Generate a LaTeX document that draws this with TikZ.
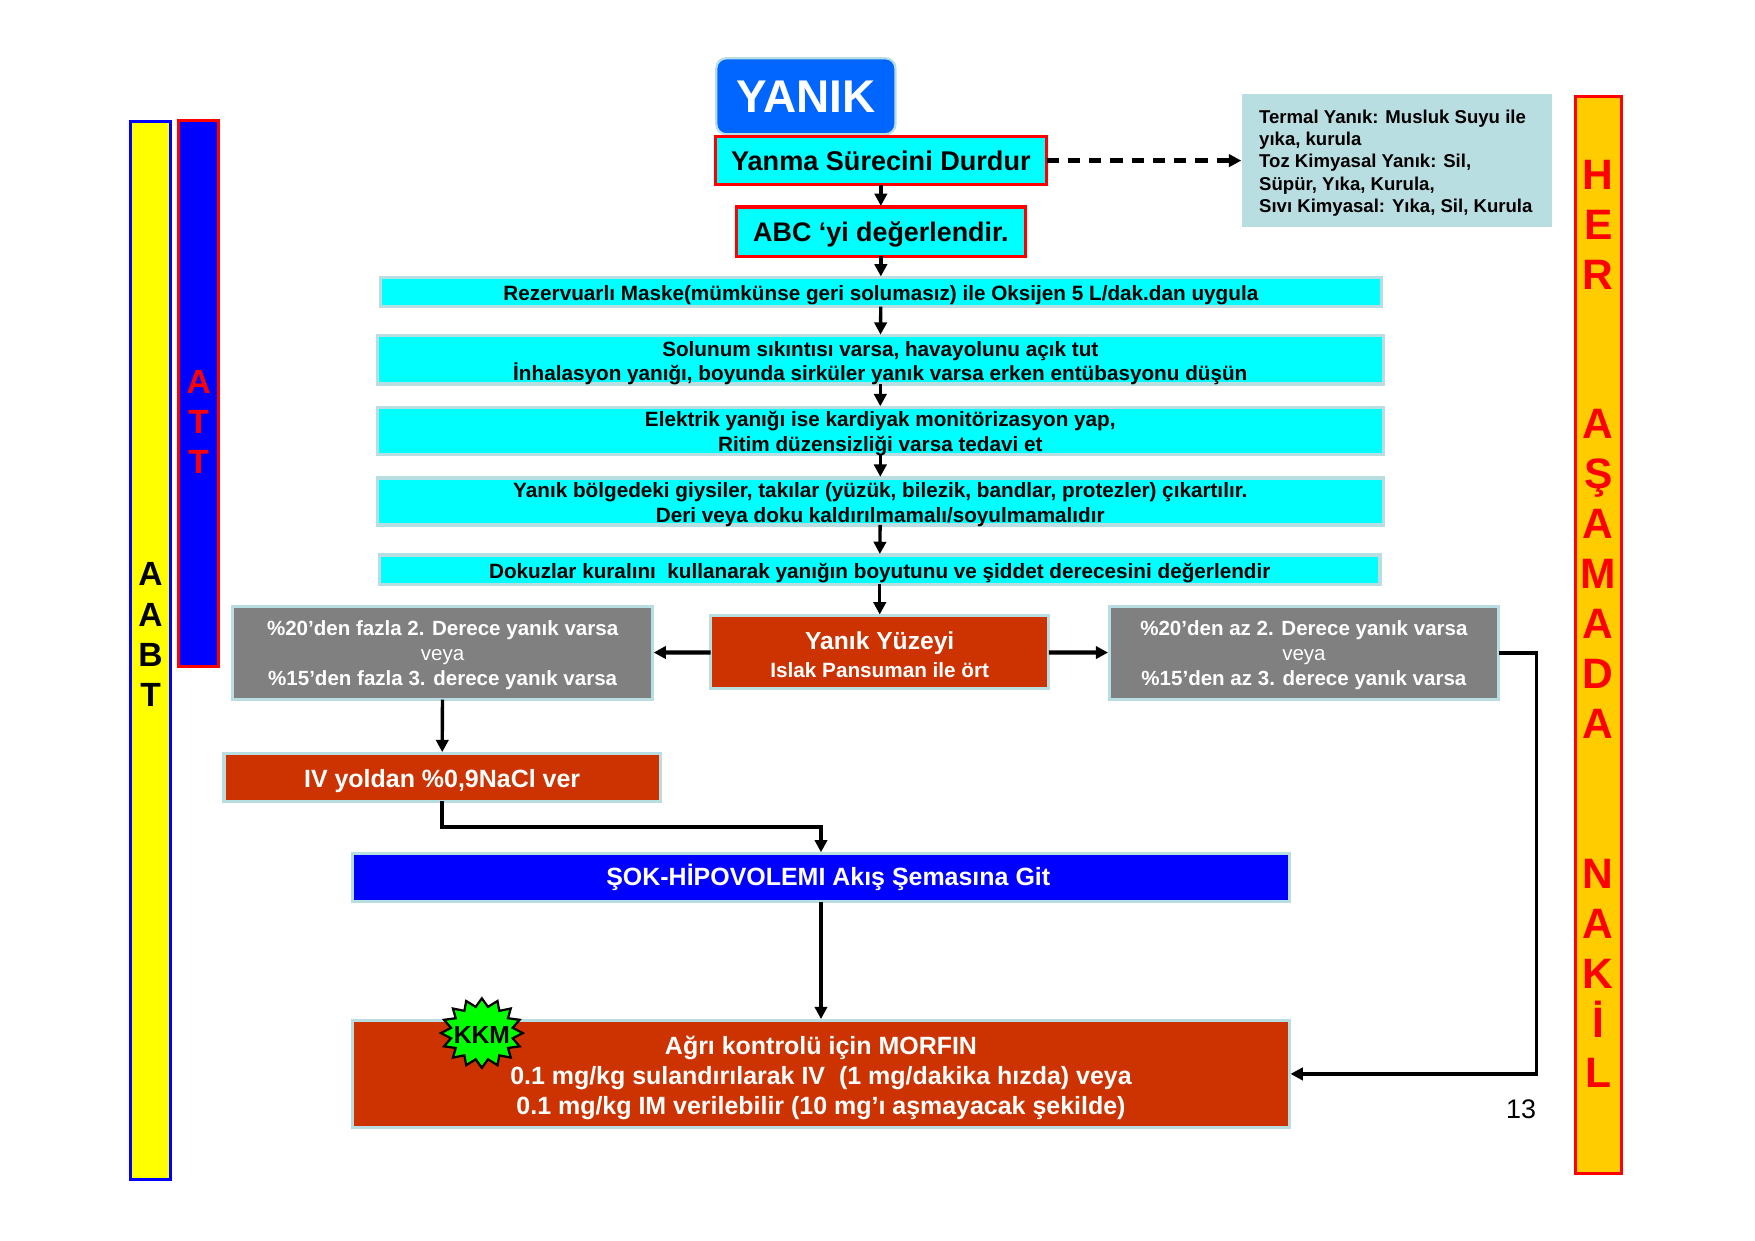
\documentclass[tikz,border=0pt]{standalone}
\usepackage{fontspec}
\setmainfont{Liberation Sans}
\usetikzlibrary{arrows.meta,shapes.geometric}
\definecolor{pale}{HTML}{B9DEE2}
\definecolor{brick}{HTML}{CC3300}
\definecolor{greybox}{HTML}{808080}
\definecolor{yanikblue}{HTML}{0066FF}
\definecolor{orangebar}{HTML}{FFCC00}
\definecolor{aqua}{HTML}{00FFFF}
\definecolor{pureblue}{HTML}{0000FF}
\definecolor{purered}{HTML}{FF0000}
\definecolor{pureyellow}{HTML}{FFFF00}
\definecolor{puregreen}{HTML}{00FF00}
\newcommand{\fs}[2]{\fontsize{#1}{#2}\selectfont}
\newcommand{\dn}[1]{\rule{0pt}{#1pt}}
\tikzset{
  x=1pt,y=-1pt,
  anybox/.style={rectangle,inner xsep=0pt,inner ysep=-8pt,outer sep=0pt,align=center},
  tf/.style 2 args={font=\bfseries\fs{#1}{#2}},
  redbox/.style={anybox,fill=aqua,draw=purered,line width=3pt,text=black},
  cyanbox/.style={anybox,fill=aqua,draw=pale,line width=3pt,text=black,tf={18.5}{22}},
  greyitem/.style={anybox,fill=greybox,draw=pale,line width=3pt,text=white,tf={18.35}{22.5}},
  brickbox/.style={anybox,fill=brick,draw=pale,line width=3pt,text=white},
  bluebox/.style={anybox,fill=pureblue,draw=pale,line width=3pt,text=white},
  bar/.style={anybox,line width=2.5pt},
  arr/.style={line width=3pt,draw=black,-{Triangle[length=11pt,width=11pt]},shorten >=1pt},
  heavyarr/.style={arr,line width=3.8pt},
}
\begin{document}
\begin{tikzpicture}
\useasboundingbox (0,0) rectangle (1568,1108);
% side bars
\node[bar,fill=pureyellow,draw=pureblue,minimum width=36,minimum height=945] (aabt) at (134.5,581) {};
\node[anybox,text=black,tf={30}{36}] (aabtl) at (134.5,567) {A\\A\\B\\T};
\node[bar,fill=pureblue,draw=purered,minimum width=36,minimum height=488] (att) at (177.5,351.5) {};
\node[anybox,text=purered,tf={30}{36}] (attl) at (177.5,377) {A\\T\\T};
\node[bar,fill=orangebar,draw=purered,minimum width=41,minimum height=962] (her) at (1428,567.5) {};
\node[anybox,text=purered,tf={38}{44.6}] (herl) at (1428,557.5) {H\\E\\R\\\strut\\\strut\\A\\Ş\\A\\M\\A\\D\\A\\\strut\\\strut\\N\\A\\K\\İ\\L};
% top
\node[anybox,rounded corners=9pt,fill=yanikblue,draw=pale,line width=2pt,text=white,minimum width=160,minimum height=68,tf={41}{50}] (yanik) at (720,86) {YANIK};
\node[redbox,minimum width=296,minimum height=43,tf={24.2}{30}] (yanma) at (787,143.5) {Yanma Sürecini Durdur};
\node[redbox,minimum width=258,minimum height=44,tf={24}{30}] (abc) at (787,207) {\dn{23.5}ABC ‘yi değerlendir.};
\node[anybox,fill=pale,minimum width=277,minimum height=119,text=black] (termal) at (1248.5,143.5) {\begin{minipage}{247pt}\raggedright\bfseries\fs{16.6}{20}\dn{16.3}Termal Yanık: Musluk Suyu ile\\yıka, kurula\\Toz Kimyasal Yanık: Sil,\\Süpür, Yıka, Kurula,\\Sıvı Kimyasal: Yıka, Sil, Kurula\end{minipage}};
% cyan steps
\node[cyanbox,minimum width=894,minimum height=26] (rez) at (787,261) {\dn{18.5}Rezervuarlı Maske(mümkünse geri solumasız) ile Oksijen 5 L/dak.dan uygula};
\node[cyanbox,minimum width=899,minimum height=43] (sol) at (786.5,321.5) {\dn{19.5}Solunum sıkıntısı varsa, havayolunu açık tut\\İnhalasyon yanığı, boyunda sirküler yanık varsa erken entübasyonu düşün};
\node[cyanbox,minimum width=899,minimum height=42] (ele) at (786.5,385) {\dn{18.5}Elektrik yanığı ise kardiyak monitörizasyon yap,\\Ritim düzensizliği varsa tedavi et};
\node[cyanbox,minimum width=899,minimum height=42] (giy) at (786.5,448) {\dn{19.5}Yanık bölgedeki giysiler, takılar (yüzük, bilezik, bandlar, protezler) çıkartılır.\\Deri veya doku kaldırılmamalı/soyulmamalıdır};
\node[cyanbox,minimum width=894,minimum height=26] (dok) at (786,509) {\dn{19.5}Dokuzlar kuralını\ \ kullanarak yanığın boyutunu ve şiddet derecesini değerlendir};
% middle row
\node[brickbox,minimum width=302,minimum height=65,tf={18.5}{25}] (yuz) at (786,582.5) {\fs{22}{25}\dn{21}Yanık Yüzeyi\\Islak Pansuman ile ört};
\node[greyitem,minimum width=375,minimum height=83] (gl) at (395.5,583.5) {\dn{17.5}\%20’den fazla 2. Derece yanık varsa\\\mdseries veya\\\%15’den fazla 3. derece yanık varsa};
\node[greyitem,minimum width=348,minimum height=83] (gr) at (1165,583.5) {\dn{17.5}\%20’den az 2. Derece yanık varsa\\\mdseries veya\\\%15’den az 3. derece yanık varsa};
\node[brickbox,minimum width=390,minimum height=43,tf={22.3}{26}] (iv) at (395,694.5) {\dn{22}IV yoldan \%0,9NaCl ver};
\node[bluebox,minimum width=837,minimum height=43,tf={22.3}{26}] (sok) at (733.5,784) {\hspace*{13pt}ŞOK-HİPOVOLEMI Akış Şemasına Git};
\node[brickbox,minimum width=837,minimum height=96,tf={22.3}{27}] (agri) at (733.5,959.5) {\dn{24}Ağrı kontrolü için MORFIN\\0.1 mg/kg sulandırılarak IV\ \ (1 mg/dakika hızda) veya\\0.1 mg/kg IM verilebilir (10 mg’ı aşmayacak şekilde)};
\node[star,star points=16,star point ratio=1.3,fill=puregreen,draw=black,line width=2pt,inner sep=0pt,minimum size=73pt,yscale=.85,transform shape] (kkmstar) at (430.5,923) {};
\node[anybox,text=black,tf={22}{26}] (kkm) at ([yshift=-2pt]kkmstar.center) {KKM};
\node[anybox,font=\fs{24}{28},text=black] (page) at (1359,991) {13};
% connectors
\coordinate (m1) at (733.5,739);
\coordinate (m2) at (1373,959.5);
\draw[arr] (yanma) -- (abc);
\draw[arr] (abc) -- (rez);
\draw[arr] (rez) -- (sol);
\draw[arr] (sol) -- (ele);
\draw[arr] (ele) -- (giy);
\draw[arr] (giy) -- (dok);
\draw[arr] (dok) -- (yuz);
\draw[heavyarr] (yuz) -- (gl);
\draw[heavyarr] (yuz) -- (gr);
\draw[arr] (gl) -- (iv);
\draw[arr] (iv.south) |- (m1) -- (sok.north);
\draw[arr] (sok) -- (agri);
\draw[arr] (gr.east) -| (m2) -- (agri.east);
\draw[heavyarr,dash pattern=on 11pt off 8pt] (yanma) -- (termal);
\end{tikzpicture}
\end{document}
